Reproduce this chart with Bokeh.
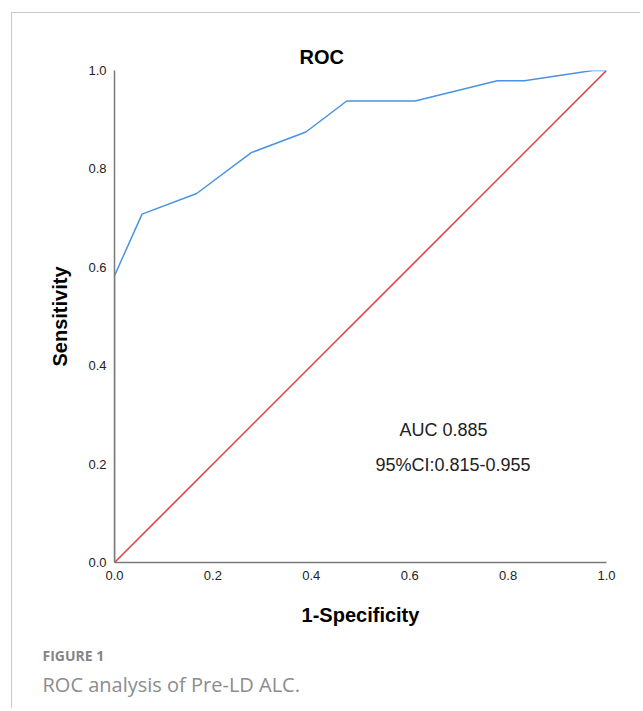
from bokeh.plotting import figure
from bokeh.models import Range1d, FixedTicker, PrintfTickFormatter, Label, Title
from bokeh.layouts import column
from bokeh.embed import file_html
from bokeh.resources import INLINE

# ROC curve values (1-Specificity, Sensitivity)
fpr = [0.0, 0.0, 0.056, 0.167, 0.278, 0.389, 0.472, 0.611, 0.778, 0.833, 0.972, 1.0]
tpr = [0.0, 0.583, 0.708, 0.750, 0.833, 0.875, 0.938, 0.938, 0.979, 0.979, 1.0, 1.0]
ref_x = [0.0, 1.0]
ref_y = [0.0, 1.0]
ticks = [0.0, 0.2, 0.4, 0.6, 0.8, 1.0]

title_text = "ROC"
x_label = "1-Specificity"
y_label = "Sensitivity"
auc_text = "AUC 0.885"
ci_text = "95%CI:0.815-0.955"
fig_label = "FIGURE 1"
caption = "ROC analysis of Pre-LD ALC."

FONT = "Liberation Sans"

p = figure(width=628, height=695, output_backend="svg", toolbar_location=None,
           x_range=Range1d(0, 1.0), y_range=Range1d(0, 1.0),
           min_border_left=102, min_border_right=34, min_border_top=57, min_border_bottom=146)
p.outline_line_color = None
p.xgrid.visible = False
p.ygrid.visible = False
p.background_fill_color = "white"
p.border_fill_color = "white"

p.title.text = title_text
p.title.text_font = FONT
p.title.text_font_size = "20px"
p.title.text_font_style = "bold"
p.title.text_color = "black"
p.title.align = "left"
p.title.offset = 185
p.title.standoff = 6

for ax in (p.xaxis[0], p.yaxis[0]):
    ax.ticker = FixedTicker(ticks=ticks)
    ax.formatter = PrintfTickFormatter(format="%.1f")
    ax.major_tick_line_color = None
    ax.minor_tick_line_color = None
    ax.major_tick_out = 0
    ax.major_tick_in = 0
    ax.minor_tick_out = 0
    ax.axis_line_color = "#7a7a7a"
    ax.axis_line_width = 1.5
    ax.major_label_text_font = FONT
    ax.major_label_text_font_size = "13px"
    ax.major_label_text_color = "#222222"
    ax.axis_label_text_font = FONT
    ax.axis_label_text_font_size = "20px"
    ax.axis_label_text_font_style = "bold"
    ax.axis_label_text_color = "black"

p.xaxis[0].axis_label = x_label
p.yaxis[0].axis_label = y_label
p.xaxis[0].major_label_standoff = 8
p.yaxis[0].major_label_standoff = 8
p.xaxis[0].axis_label_standoff = 21
p.yaxis[0].axis_label_standoff = 14

p.line(ref_x, ref_y, line_color="#e8363c", line_width=1.5)
p.line(fpr, tpr, line_color="#4a93e0", line_width=1.5)

p.add_layout(Label(x=285, y=133, x_units="screen", y_units="screen", text=auc_text,
                   text_font=FONT, text_font_size="18px", text_align="left",
                   text_baseline="alphabetic", text_color="#222222"))
p.add_layout(Label(x=261, y=98, x_units="screen", y_units="screen", text=ci_text,
                   text_font=FONT, text_font_size="18px", text_align="left",
                   text_baseline="alphabetic", text_color="#222222"))

p.add_layout(Title(text=fig_label, text_font="Open Sans", text_font_size="14px",
                   text_font_style="bold", text_color="#858585", align="left",
                   offset=-72, standoff=31), "below")
p.add_layout(Title(text=caption, text_font="Open Sans", text_font_size="20px",
                   text_font_style="normal", text_color="#8c8c8c", align="left",
                   offset=-72, standoff=-24), "below")

layout = column(p, styles={"margin-left": "11px", "margin-top": "12px",
                           "border-left": "1px solid #c8c8c8",
                           "border-top": "1px solid #c8c8c8"})

open("out.html", "w").write(file_html(layout, INLINE))
